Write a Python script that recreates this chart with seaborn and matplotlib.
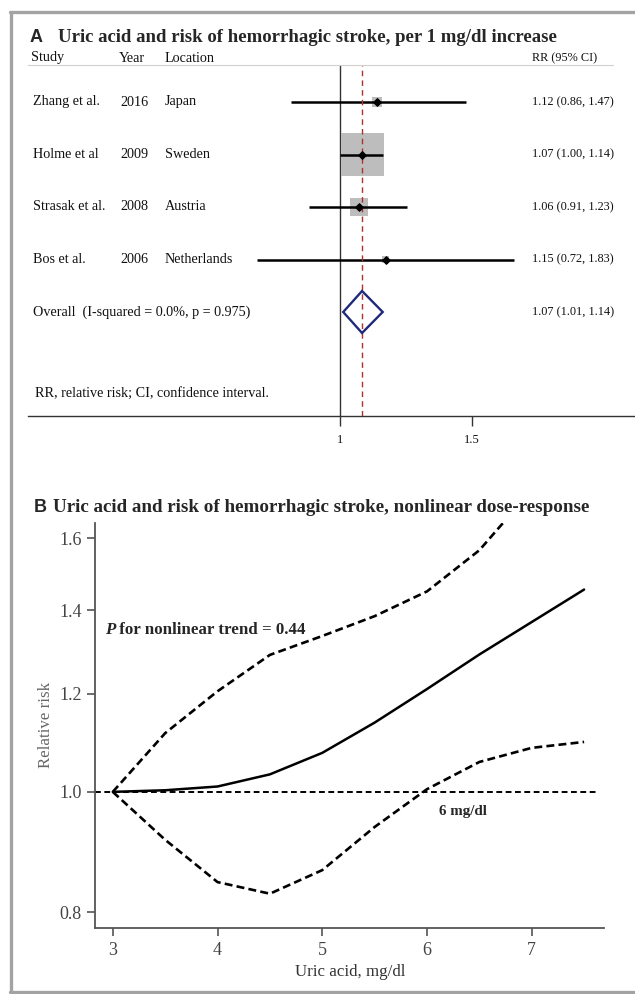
import numpy as np
import pandas as pd
import matplotlib
matplotlib.use('Agg')
import matplotlib.pyplot as plt
from matplotlib.lines import Line2D
from matplotlib.ticker import NullLocator, FixedLocator, FixedFormatter
import seaborn as sns

# ---- panel A: forest plot data ----
studies = ['Zhang et al.', 'Holme et al', 'Strasak et al.', 'Bos et al.']
years = ['2016', '2009', '2008', '2006']
locations = ['Japan', 'Sweden', 'Austria', 'Netherlands']
rr = [1.12, 1.07, 1.06, 1.15]
ci_lo = [0.86, 1.00, 0.91, 0.775]   # line ends as drawn in the figure
ci_hi = [1.47, 1.14, 1.23, 1.705]
weights = [4.7, 78.8, 14.9, 1.6]     # % weight, sets box area
rr_text = ['1.12 (0.86, 1.47)', '1.07 (1.00, 1.14)', '1.06 (0.91, 1.23)', '1.15 (0.72, 1.83)']
pooled = 1.07
pooled_lo = 1.01
pooled_hi = 1.14
overall_label = 'Overall  (I-squared = 0.0%, p = 0.975)'
overall_text = '1.07 (1.01, 1.14)'
forest_ticks = [1, 1.5]

# ---- panel B: dose-response data ----
uric = [3.0, 3.5, 4.0, 4.5, 5.0, 5.5, 6.0, 6.5, 7.0, 7.5]
rr_curve = [1.0, 1.003, 1.01, 1.033, 1.075, 1.137, 1.21, 1.29, 1.37, 1.455]
upper = [1.0, 1.115, 1.205, 1.289, 1.335, 1.385, 1.45, 1.565, 1.75, 1.9]
lower = [1.0, 0.915, 0.846, 0.828, 0.865, 0.937, 1.005, 1.057, 1.085, 1.097]
dose_yticks = [0.8, 1.0, 1.2, 1.4, 1.6]
dose_xticks = [3, 4, 5, 6, 7]

W, H = 635, 994
sns.set_theme(style='white')
plt.rcParams['font.family'] = ['Liberation Serif', 'DejaVu Serif']
plt.rcParams['axes.unicode_minus'] = False

fig = plt.figure(figsize=(W / 100, H / 100), dpi=100)


def fx(px):
    return px / W


def fy(py):
    return 1 - py / H


def ftext(x, y, s, **kw):
    return fig.text(fx(x), fy(y), s, **kw)


# outer gray frame (left, top, bottom)
frame_kw = dict(color='#a3a3a3', lw=2.4, transform=fig.transFigure)
fig.add_artist(Line2D([fx(11), fx(11)], [fy(12), fy(992)], **frame_kw))
fig.add_artist(Line2D([fx(10), fx(635)], [fy(12), fy(12)], **frame_kw))
fig.add_artist(Line2D([fx(10), fx(635)], [fy(992), fy(992)], **frame_kw))

# ================= Panel A =================
row0, row_step = 102, 52.5
top_px, axis_px = 65, 416

ftext(30, 38, 'A', family='Liberation Sans', fontweight='bold', fontsize=13, va='center')
ftext(58, 38, 'Uric acid and risk of hemorrhagic stroke, per 1 mg/dl increase',
      fontweight='bold', fontsize=13.5, va='center')

left_kw = dict(fontsize=10.2, va='center', color='#111')
num_kw = dict(fontsize=8.8, va='center', color='#111')
ftext(31, 58, 'Study', **left_kw)
ftext(119, 58, 'Year', **left_kw)
ftext(165, 58, 'Location', **left_kw)
ftext(532, 58, 'RR (95% CI)', **num_kw)
fig.add_artist(Line2D([fx(28), fx(613)], [fy(65), fy(65)], color='#d0d0d0', lw=0.8,
                      transform=fig.transFigure))

ax1 = fig.add_axes([fx(28), fy(axis_px), fx(635 - 28), (axis_px - top_px) / H])
ax1.set_xscale('log')
ax1.set_xlim(0.384, 2.472)
ax1.set_ylim((axis_px - row0) / row_step, (top_px - row0) / row_step)
for side in ['top', 'left', 'right']:
    ax1.spines[side].set_visible(False)
ax1.spines['bottom'].set_color('#333')
ax1.spines['bottom'].set_linewidth(1.0)
ax1.set_facecolor('none')

ax1.axvline(1, color='#333', lw=1.0, zorder=1)
ax1.axvline(pooled, color='#b03030', lw=1.0, ls=(0, (4, 3)), zorder=4)

idx = np.arange(len(studies))
df_forest = pd.DataFrame({'rr': rr, 'row': idx, 'w': weights})
k = 12.2
sns.scatterplot(data=df_forest, x='rr', y='row', size='w',
                sizes=(k * min(weights), k * max(weights)), marker='s',
                color='#bdbdbd', edgecolor='none', legend=False, ax=ax1, zorder=2)
ax1.hlines(idx, ci_lo, ci_hi, color='black', lw=1.8, zorder=3)
ax1.scatter(rr, idx, marker='D', s=14, color='black', zorder=5)

orow = len(studies)
ax1.fill([pooled_lo, pooled, pooled_hi, pooled], [orow, orow - 0.4, orow, orow + 0.4],
         facecolor='none', edgecolor='#1f2a7a', lw=1.7, zorder=5)

ax1.xaxis.set_major_locator(FixedLocator(forest_ticks))
ax1.xaxis.set_major_formatter(FixedFormatter([str(t) for t in forest_ticks]))
ax1.xaxis.set_minor_locator(NullLocator())
ax1.set_yticks([])
ax1.set_xlabel('')
ax1.set_ylabel('')
ax1.tick_params(axis='x', bottom=True, direction='out', length=7, width=1,
                color='#333', labelsize=9, pad=6, labelcolor='#111')

for i in range(len(studies)):
    ypx = row0 + row_step * i
    ftext(33, ypx, studies[i], **left_kw)
    ftext(120, ypx, years[i], **left_kw)
    ftext(165, ypx, locations[i], **left_kw)
    ftext(532, ypx, rr_text[i], **num_kw)
ftext(33, row0 + row_step * orow, overall_label, **left_kw)
ftext(532, row0 + row_step * orow, overall_text, **num_kw)
ftext(35, 393, 'RR, relative risk; CI, confidence interval.', **left_kw)

# ================= Panel B =================
ftext(34, 508, 'B', family='Liberation Sans', fontweight='bold', fontsize=13, va='center')
ftext(53, 508, 'Uric acid and risk of hemorrhagic stroke, nonlinear dose-response',
      fontweight='bold', fontsize=13.7, va='center')

ax2 = fig.add_axes([fx(95), fy(928), fx(604 - 95), (928 - 523) / H])
ax2.set_yscale('log')
ax2.set_ylim(0.777, 1.646)
ax2.set_xlim(2.83, 7.69)
ax2.set_facecolor('none')

df_dose = pd.DataFrame({'uric': uric, 'rr': rr_curve, 'upper': upper, 'lower': lower})
sns.lineplot(data=df_dose, x='uric', y='rr', color='black', lw=1.8, ax=ax2)
sns.lineplot(data=df_dose, x='uric', y='upper', color='black', lw=1.9,
             ls=(0, (3, 1.6)), ax=ax2)
sns.lineplot(data=df_dose, x='uric', y='lower', color='black', lw=1.9,
             ls=(0, (3, 1.6)), ax=ax2)
ax2.axhline(1.0, xmin=0, xmax=(7.63 - 2.83) / (7.69 - 2.83), color='black', lw=1.4,
            ls=(0, (3, 1.8)))

for side in ['top', 'right']:
    ax2.spines[side].set_visible(False)
for side in ['left', 'bottom']:
    ax2.spines[side].set_color('#555')
    ax2.spines[side].set_linewidth(1.3)
ax2.yaxis.set_major_locator(FixedLocator(dose_yticks))
ax2.yaxis.set_major_formatter(FixedFormatter([f'{v:.1f}' for v in dose_yticks]))
ax2.yaxis.set_minor_locator(NullLocator())
ax2.set_xticks(dose_xticks)
ax2.set_xticklabels([str(v) for v in dose_xticks])
ax2.tick_params(axis='both', direction='out', length=6, width=1.2, color='#555',
                labelsize=13, labelcolor='#444', left=True, bottom=True)
ax2.tick_params(axis='x', pad=4)
ax2.set_xlabel('')
ax2.set_ylabel('')

ftext(350, 972, 'Uric acid, mg/dl', fontsize=12.2, ha='center', va='center', color='#333')
ftext(46, 725, 'Relative risk', fontsize=12.2, ha='center', va='center', rotation=90,
      color='#666')

p_txt = ftext(105, 630, 'P', fontsize=12.2, fontweight='bold', style='italic', va='center')
ax2.annotate(' for nonlinear trend = 0.44', xy=(1, 0.5), xycoords=p_txt,
             fontsize=12.2, fontweight='bold', va='center', ha='left',
             annotation_clip=False)
ftext(463, 811, '6 mg/dl', fontsize=10.8, fontweight='bold', ha='center', va='center')

fig.savefig('out.png', dpi=100)
